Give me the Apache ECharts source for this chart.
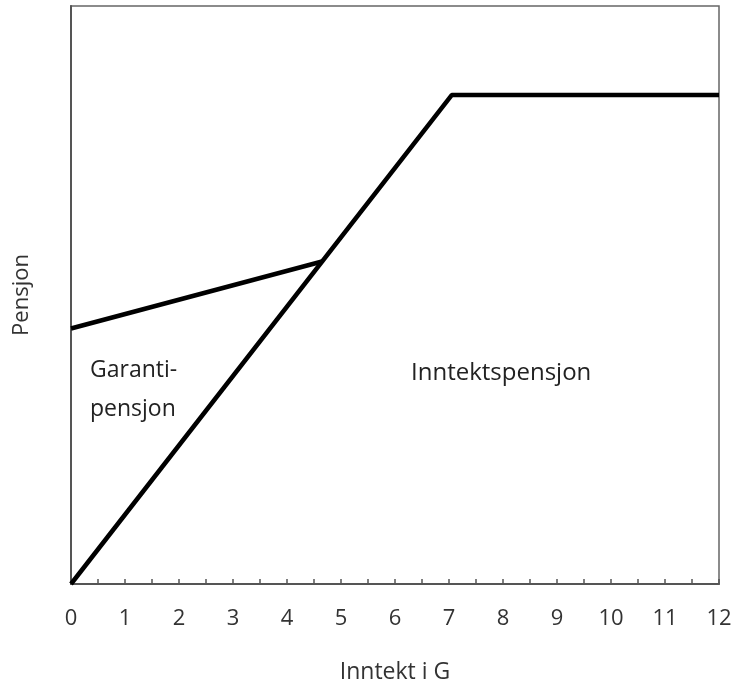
<!DOCTYPE html>
<html>
<head>
<meta charset="utf-8">
<script src="https://cdn.jsdelivr.net/npm/echarts@6/dist/echarts.min.js"></script>
<style>html,body{margin:0;padding:0;background:#fff}#c{width:734px;height:685px}</style>
</head>
<body>
<div id="c"></div>
<script>
const xTicks = [0,1,2,3,4,5,6,7,8,9,10,11,12];
const inntektX = [0, 7.05, 12];
const inntektY = [0, 84.6, 84.6];
const garantiX = [0, 4.65];
const garantiY = [44.2, 55.8];
const labels = ["Garanti-\npensjon", "Inntektspensjon"];

const font = "'Open Sans', sans-serif";
const chart = echarts.init(document.getElementById('c'));
chart.setOption({
  animation: false,
  grid: {left: 71, right: 15, top: 6, bottom: 101, show: true, borderColor: '#666', borderWidth: 1.5,
         containLabel: false, outerBoundsMode: 'none'},
  xAxis: {
    type: 'value', min: 0, max: 12, interval: 0.5,
    name: 'Inntekt i G', nameLocation: 'middle', nameGap: 77,
    nameTextStyle: {fontFamily: font, fontSize: 23, color: '#333'},
    axisLine: {show: true, lineStyle: {color: '#555', width: 2}},
    axisTick: {show: true, inside: true, length: 5, lineStyle: {color: '#555', width: 1.5}},
    splitLine: {show: false},
    axisLabel: {
      margin: 24, fontFamily: font, fontSize: 22, color: '#333',
      formatter: v => xTicks.includes(v) ? String(v) : ''
    }
  },
  yAxis: {
    type: 'value', min: 0, max: 100,
    name: 'Pensjon', nameLocation: 'middle', nameGap: 38, nameRotate: 90,
    nameTextStyle: {fontFamily: font, fontSize: 22, color: '#333'},
    axisLine: {show: true, lineStyle: {color: '#555', width: 2}},
    axisTick: {show: false}, axisLabel: {show: false}, splitLine: {show: false}
  },
  series: [
    {type: 'line', data: inntektX.map((x, i) => [x, inntektY[i]]), showSymbol: false,
     lineStyle: {color: '#000', width: 4.5}},
    {type: 'line', data: garantiX.map((x, i) => [x, garantiY[i]]), showSymbol: false,
     lineStyle: {color: '#000', width: 4.5}}
  ],
  graphic: [
    {type: 'text', left: 90, top: 351, style: {text: labels[0], font: "23px 'Open Sans', sans-serif", fill: '#222', lineHeight: 39}},
    {type: 'text', left: 411, top: 361, style: {text: labels[1], font: "24px 'Open Sans', sans-serif", fill: '#222'}}
  ]
});
</script>
</body>
</html>
